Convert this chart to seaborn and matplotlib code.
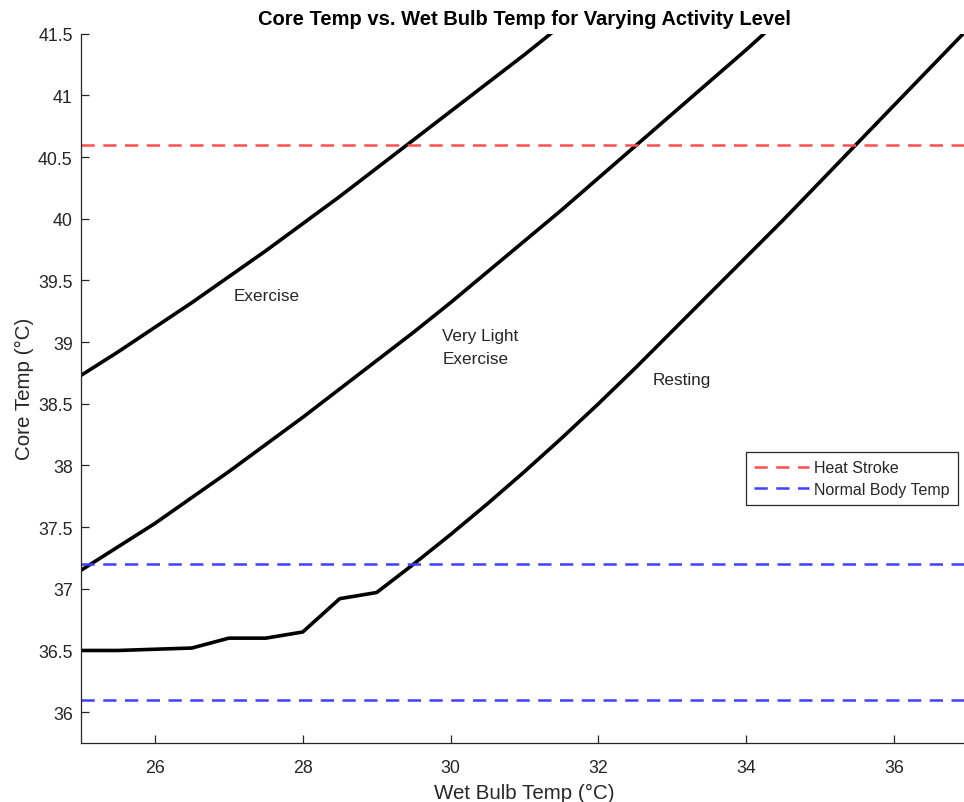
import matplotlib
matplotlib.use("Agg")
import matplotlib.pyplot as plt
from matplotlib.lines import Line2D
import numpy as np
import pandas as pd
import seaborn as sns

# Wet bulb temperature grid (deg C)
wet_bulb = [25.0, 25.5, 26.0, 26.5, 27.0, 27.5, 28.0, 28.5, 29.0, 29.5, 30.0,
            30.5, 31.0, 31.5, 32.0, 32.5, 33.0, 33.5, 34.0, 34.5, 35.0, 35.5,
            36.0, 36.5, 37.0]

# Core temperature for each activity level (deg C)
core_exercise = [38.73, 38.92, 39.12, 39.32, 39.53, 39.74, 39.96, 40.18, 40.41,
                 40.64, 40.87, 41.10, 41.33, 41.57, 41.81, 42.05, 42.30, 42.55,
                 42.80, 43.05, 43.31, 43.57, 43.83, 44.09, 44.36]
core_very_light = [37.15, 37.34, 37.53, 37.74, 37.95, 38.17, 38.39, 38.62, 38.85,
                   39.08, 39.32, 39.57, 39.82, 40.07, 40.33, 40.59, 40.85, 41.11,
                   41.37, 41.64, 41.91, 42.18, 42.45, 42.72, 43.00]
core_resting = [36.50, 36.50, 36.51, 36.52, 36.60, 36.60, 36.65, 36.92, 36.97,
                37.20, 37.44, 37.69, 37.95, 38.22, 38.50, 38.79, 39.09, 39.39,
                39.69, 39.99, 40.30, 40.61, 40.92, 41.23, 41.54]

# Reference thresholds
heat_stroke = 40.6
normal_body = [36.1, 37.2]

# Curve annotations: (x, y, text)
curve_labels = [(27.06, 39.38, "Exercise"),
                (29.89, 38.96, "Very Light\nExercise"),
                (32.74, 38.70, "Resting")]

x_ticks = [26, 28, 30, 32, 34, 36]
y_ticks = [36, 36.5, 37, 37.5, 38, 38.5, 39, 39.5, 40, 40.5, 41, 41.5]

sns.set_theme(style="white")
plt.rcParams["font.family"] = ["Liberation Sans", "DejaVu Sans"]

W, H = 964, 803
fig = plt.figure(figsize=(W / 100, H / 100), dpi=100)
ax = fig.add_axes([81 / W, (H - 744) / H, 887 / W, 709.3 / H])

df = pd.DataFrame({
    "wet_bulb": wet_bulb * 3,
    "core": core_exercise + core_very_light + core_resting,
    "activity": (["Exercise"] * len(wet_bulb) + ["Very Light"] * len(wet_bulb)
                 + ["Resting"] * len(wet_bulb)),
})
for name, sub in df.groupby("activity", sort=False):
    sns.lineplot(data=sub, x="wet_bulb", y="core", color="black", lw=2.6,
                 ax=ax, legend=False, estimator=None, sort=True)

red = "#ff4f4f"
blue = "#4040ff"
dash = (0, (5.3, 3.4))
ax.axhline(heat_stroke, color=red, lw=1.8, linestyle=dash)
for v in normal_body:
    ax.axhline(v, color=blue, lw=1.8, linestyle=dash)

for x, y, t in curve_labels:
    ax.text(x, y, t, fontsize=12.3, color="#262626", ha="left", va="center",
            linespacing=1.6)

ax.set_xlim(25, 37)
ax.set_ylim(35.75, 41.5)
ax.set_xticks(x_ticks)
ax.set_xticklabels([f"{v:g}" for v in x_ticks])
ax.set_yticks(y_ticks)
ax.set_yticklabels([f"{v:g}" for v in y_ticks])

for side in ("top", "right"):
    ax.spines[side].set_visible(False)
for side in ("left", "bottom"):
    ax.spines[side].set_color("#262626")
    ax.spines[side].set_linewidth(0.9)

ax.tick_params(axis="both", which="major", bottom=True, left=True,
               direction="in", length=6, width=0.9,
               color="#262626", labelcolor="#262626", labelsize=12.8)
ax.tick_params(axis="y", pad=6)
ax.tick_params(axis="x", pad=11.5)

ax.set_xlabel("Wet Bulb Temp (°C)", fontsize=14.8, color="#262626", labelpad=5)
ax.set_ylabel("Core Temp (°C)", fontsize=14.8, color="#262626", labelpad=3)
ax.set_title("Core Temp vs. Wet Bulb Temp for Varying Activity Level",
             fontsize=14.5, fontweight="bold", color="black", pad=7)

handles = [Line2D([0], [0], color=red, lw=1.8, linestyle=dash),
           Line2D([0], [0], color=blue, lw=1.8, linestyle=dash)]
leg = ax.legend(handles, ["Heat Stroke", "Normal Body Temp"],
                loc="upper right", bbox_to_anchor=(0.9884, 0.4098),
                borderaxespad=0, fontsize=11.5, frameon=True, fancybox=False,
                framealpha=1, edgecolor="#262626", handlelength=3.4,
                handletextpad=0.35, labelspacing=0.42, borderpad=0.5)
leg.get_frame().set_linewidth(0.9)
for t in leg.get_texts():
    t.set_color("#262626")

fig.savefig("out.png", dpi=100)
